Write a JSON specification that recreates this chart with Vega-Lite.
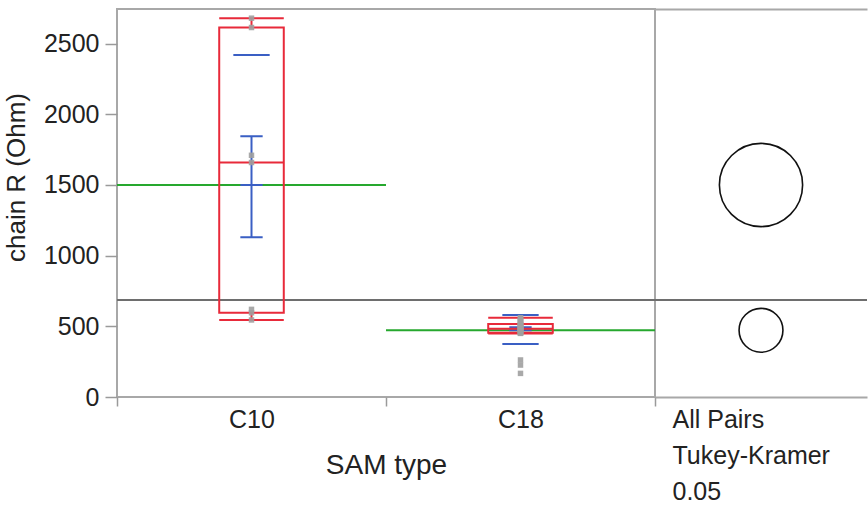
{
  "$schema": "https://vega.github.io/schema/vega-lite/v6.json",
  "background": "white",
  "padding": {"left": 2, "top": 8, "right": 0, "bottom": 0},
  "bounds": "flush",
  "spacing": 0,
  "config": {
    "font": "Liberation Sans",
    "view": {"stroke": "#a8a8a8", "strokeWidth": 2},
    "axis": {"grid": false, "domain": false, "labelFont": "Liberation Sans", "titleFont": "Liberation Sans", "labelColor": "#222222", "titleColor": "#222222", "tickColor": "#9a9a9a", "tickWidth": 1.5, "titleFontWeight": "normal"}
  },
  "datasets": {
    "obs": [
      {"group": "C10", "R": 545}, {"group": "C10", "R": 596}, {"group": "C10", "R": 620}, {"group": "C10", "R": 1659}, {"group": "C10", "R": 1710}, {"group": "C10", "R": 2614}, {"group": "C10", "R": 2680},
      {"group": "C18", "R": 167}, {"group": "C18", "R": 226}, {"group": "C18", "R": 262}, {"group": "C18", "R": 450}, {"group": "C18", "R": 452}, {"group": "C18", "R": 455}, {"group": "C18", "R": 458}, {"group": "C18", "R": 462}, {"group": "C18", "R": 466}, {"group": "C18", "R": 470}, {"group": "C18", "R": 475}, {"group": "C18", "R": 480}, {"group": "C18", "R": 483}, {"group": "C18", "R": 486}, {"group": "C18", "R": 490}, {"group": "C18", "R": 495}, {"group": "C18", "R": 500}, {"group": "C18", "R": 508}, {"group": "C18", "R": 512}, {"group": "C18", "R": 516}, {"group": "C18", "R": 520}, {"group": "C18", "R": 530}, {"group": "C18", "R": 540}, {"group": "C18", "R": 548}, {"group": "C18", "R": 556}, {"group": "C18", "R": 561}
    ],
    "stats": [
      {"group": "C10", "mean": 1500, "ci_lo": 1130, "ci_hi": 1845, "sd_lo": null, "sd_hi": 2420, "q1": 596, "median": 1659, "q3": 2614, "w_lo": 545, "w_hi": 2680},
      {"group": "C18", "mean": 472, "ci_lo": 452, "ci_hi": 494, "sd_lo": 375, "sd_hi": 580, "q1": 455, "median": 483, "q3": 516, "w_lo": 450, "w_hi": 561}
    ],
    "grand": [{"grand_mean": 686}],
    "circles": [
      {"panel": "All Pairs", "group": "C10", "mean": 1500, "radius": 332},
      {"panel": "All Pairs", "group": "C18", "mean": 472, "radius": 175}
    ]
  },
  "resolve": {"scale": {"y": "shared"}},
  "hconcat": [
    {
      "width": 538,
      "height": 388,
      "layer": [
        {
          "data": {"name": "grand"},
          "mark": {"type": "rule", "color": "#6e6e6e", "strokeWidth": 2},
          "encoding": {
            "y": {"field": "grand_mean", "type": "quantitative", "title": "chain R (Ohm)",
              "scale": {"domain": [0, 2745], "nice": false, "zero": false},
              "axis": {
                "values": [0, 250, 500, 750, 1000, 1250, 1500, 1750, 2000, 2250, 2500],
                "format": "d",
                "labelExpr": "datum.value % 500 === 0 ? datum.label : ''",
                "tickSize": {"condition": {"test": "datum.value % 500 === 0", "value": 12}, "value": 6},
                "labelPadding": 6,
                "labelFontSize": 25,
                "titleFontSize": 26,
                "titlePadding": 14,
                "titleY": 168
              }
            }
          }
        },
        {
          "data": {"name": "stats"},
          "mark": {"type": "bar", "fill": "white", "fillOpacity": 0, "stroke": "#26a82e", "strokeWidth": 2, "width": {"band": 1}},
          "encoding": {
            "x": {"field": "group", "type": "nominal", "scale": {"type": "band", "domain": ["C10", "C18"], "paddingInner": 0, "paddingOuter": 0},
              "title": "SAM type",
              "axis": {"labelAngle": 0, "tickBand": "extent", "tickSize": 9, "labelPadding": 1, "labelFontSize": 25, "titleFontSize": 28, "titlePadding": 19}},
            "y": {"field": "mean", "type": "quantitative", "title": "chain R (Ohm)"},
            "y2": {"field": "mean"}
          }
        },
        {
          "data": {"name": "stats"},
          "mark": {"type": "bar", "fill": "white", "fillOpacity": 0, "stroke": "#3a5fc4", "strokeWidth": 2, "width": {"band": 0.135}},
          "encoding": {
            "x": {"field": "group", "type": "nominal"},
            "y": {"field": "sd_hi", "type": "quantitative", "title": "chain R (Ohm)"},
            "y2": {"field": "sd_hi"}
          }
        },
        {
          "data": {"name": "stats"},
          "transform": [{"filter": "isValid(datum.sd_lo)"}],
          "mark": {"type": "bar", "fill": "white", "fillOpacity": 0, "stroke": "#3a5fc4", "strokeWidth": 2, "width": {"band": 0.135}},
          "encoding": {
            "x": {"field": "group", "type": "nominal"},
            "y": {"field": "sd_lo", "type": "quantitative", "title": "chain R (Ohm)"},
            "y2": {"field": "sd_lo"}
          }
        },
        {
          "data": {"name": "stats"},
          "mark": {"type": "rule", "color": "#3a5fc4", "strokeWidth": 2},
          "encoding": {
            "x": {"field": "group", "type": "nominal"},
            "y": {"field": "ci_lo", "type": "quantitative", "title": "chain R (Ohm)"},
            "y2": {"field": "ci_hi"}
          }
        },
        {
          "data": {"name": "stats"},
          "mark": {"type": "bar", "fill": "white", "fillOpacity": 0, "stroke": "#3a5fc4", "strokeWidth": 2, "width": {"band": 0.083}},
          "encoding": {
            "x": {"field": "group", "type": "nominal"},
            "y": {"field": "ci_lo", "type": "quantitative", "title": "chain R (Ohm)"},
            "y2": {"field": "ci_lo"}
          }
        },
        {
          "data": {"name": "stats"},
          "mark": {"type": "bar", "fill": "white", "fillOpacity": 0, "stroke": "#3a5fc4", "strokeWidth": 2, "width": {"band": 0.083}},
          "encoding": {
            "x": {"field": "group", "type": "nominal"},
            "y": {"field": "ci_hi", "type": "quantitative", "title": "chain R (Ohm)"},
            "y2": {"field": "ci_hi"}
          }
        },
        {
          "data": {"name": "stats"},
          "mark": {"type": "bar", "fill": "white", "fillOpacity": 0, "stroke": "#3a5fc4", "strokeWidth": 2, "width": {"band": 0.083}},
          "encoding": {
            "x": {"field": "group", "type": "nominal"},
            "y": {"field": "mean", "type": "quantitative", "title": "chain R (Ohm)"},
            "y2": {"field": "mean"}
          }
        },
        {
          "data": {"name": "stats"},
          "mark": {"type": "bar", "fill": "white", "fillOpacity": 0, "stroke": "#e82a3a", "strokeWidth": 2, "width": {"band": 0.24}},
          "encoding": {
            "x": {"field": "group", "type": "nominal"},
            "y": {"field": "q1", "type": "quantitative", "title": "chain R (Ohm)"},
            "y2": {"field": "q3"}
          }
        },
        {
          "data": {"name": "stats"},
          "mark": {"type": "bar", "fill": "white", "fillOpacity": 0, "stroke": "#e82a3a", "strokeWidth": 2, "width": {"band": 0.24}},
          "encoding": {
            "x": {"field": "group", "type": "nominal"},
            "y": {"field": "median", "type": "quantitative", "title": "chain R (Ohm)"},
            "y2": {"field": "median"}
          }
        },
        {
          "data": {"name": "stats"},
          "mark": {"type": "bar", "fill": "white", "fillOpacity": 0, "stroke": "#e82a3a", "strokeWidth": 2, "width": {"band": 0.24}},
          "encoding": {
            "x": {"field": "group", "type": "nominal"},
            "y": {"field": "w_hi", "type": "quantitative", "title": "chain R (Ohm)"},
            "y2": {"field": "w_hi"}
          }
        },
        {
          "data": {"name": "stats"},
          "mark": {"type": "bar", "fill": "white", "fillOpacity": 0, "stroke": "#e82a3a", "strokeWidth": 2, "width": {"band": 0.24}},
          "encoding": {
            "x": {"field": "group", "type": "nominal"},
            "y": {"field": "w_lo", "type": "quantitative", "title": "chain R (Ohm)"},
            "y2": {"field": "w_lo"}
          }
        },
        {
          "data": {"name": "stats"},
          "mark": {"type": "rule", "color": "#e82a3a", "strokeWidth": 2},
          "encoding": {
            "x": {"field": "group", "type": "nominal"},
            "y": {"field": "q3", "type": "quantitative", "title": "chain R (Ohm)"},
            "y2": {"field": "w_hi"}
          }
        },
        {
          "data": {"name": "stats"},
          "mark": {"type": "rule", "color": "#e82a3a", "strokeWidth": 2},
          "encoding": {
            "x": {"field": "group", "type": "nominal"},
            "y": {"field": "w_lo", "type": "quantitative", "title": "chain R (Ohm)"},
            "y2": {"field": "q1"}
          }
        },
        {
          "data": {"name": "obs"},
          "mark": {"type": "square", "filled": true, "color": "#a0a0a0", "opacity": 0.9, "size": 30},
          "encoding": {
            "x": {"field": "group", "type": "nominal"},
            "y": {"field": "R", "type": "quantitative", "title": "chain R (Ohm)"}
          }
        }
      ]
    },
    {
      "width": 212,
      "height": 388,
      "view": {"stroke": null},
      "resolve": {"axis": {"x": "independent"}},
      "layer": [
        {
          "data": {"name": "grand"},
          "mark": {"type": "rule", "color": "#6e6e6e", "strokeWidth": 2},
          "encoding": {
            "y": {"field": "grand_mean", "type": "quantitative", "axis": null, "scale": {"domain": [0, 2745], "nice": false, "zero": false}}
          }
        },
        {
          "data": {"name": "circles"},
          "mark": {"type": "point", "shape": "circle", "filled": false, "stroke": "#111111", "strokeWidth": 1.6, "opacity": 1},
          "encoding": {
            "x": {"field": "panel", "type": "nominal",
              "axis": {"orient": "bottom", "domain": true, "domainColor": "#a8a8a8", "domainWidth": 2, "ticks": false, "labels": false,
                "title": ["All Pairs", "Tukey-Kramer", "\u20050.05"], "titleFontSize": 25, "titleAlign": "left", "titleAnchor": "start", "titleX": 17, "titleY": 30, "titleBaseline": "alphabetic", "titleLineHeight": 36}},
            "y": {"field": "mean", "type": "quantitative", "axis": null},
            "size": {"field": "radius", "type": "quantitative", "legend": null, "scale": {"type": "pow", "exponent": 2, "domain": [0, 332], "range": [0, 6925]}}
          }
        },
        {
          "data": {"name": "circles"},
          "mark": {"type": "point", "opacity": 0},
          "encoding": {
            "x": {"field": "panel", "type": "nominal",
              "axis": {"orient": "top", "domain": true, "domainColor": "#a8a8a8", "domainWidth": 2, "ticks": false, "labels": false, "title": null}},
            "y": {"field": "mean", "type": "quantitative", "axis": null}
          }
        }
      ]
    }
  ]
}
